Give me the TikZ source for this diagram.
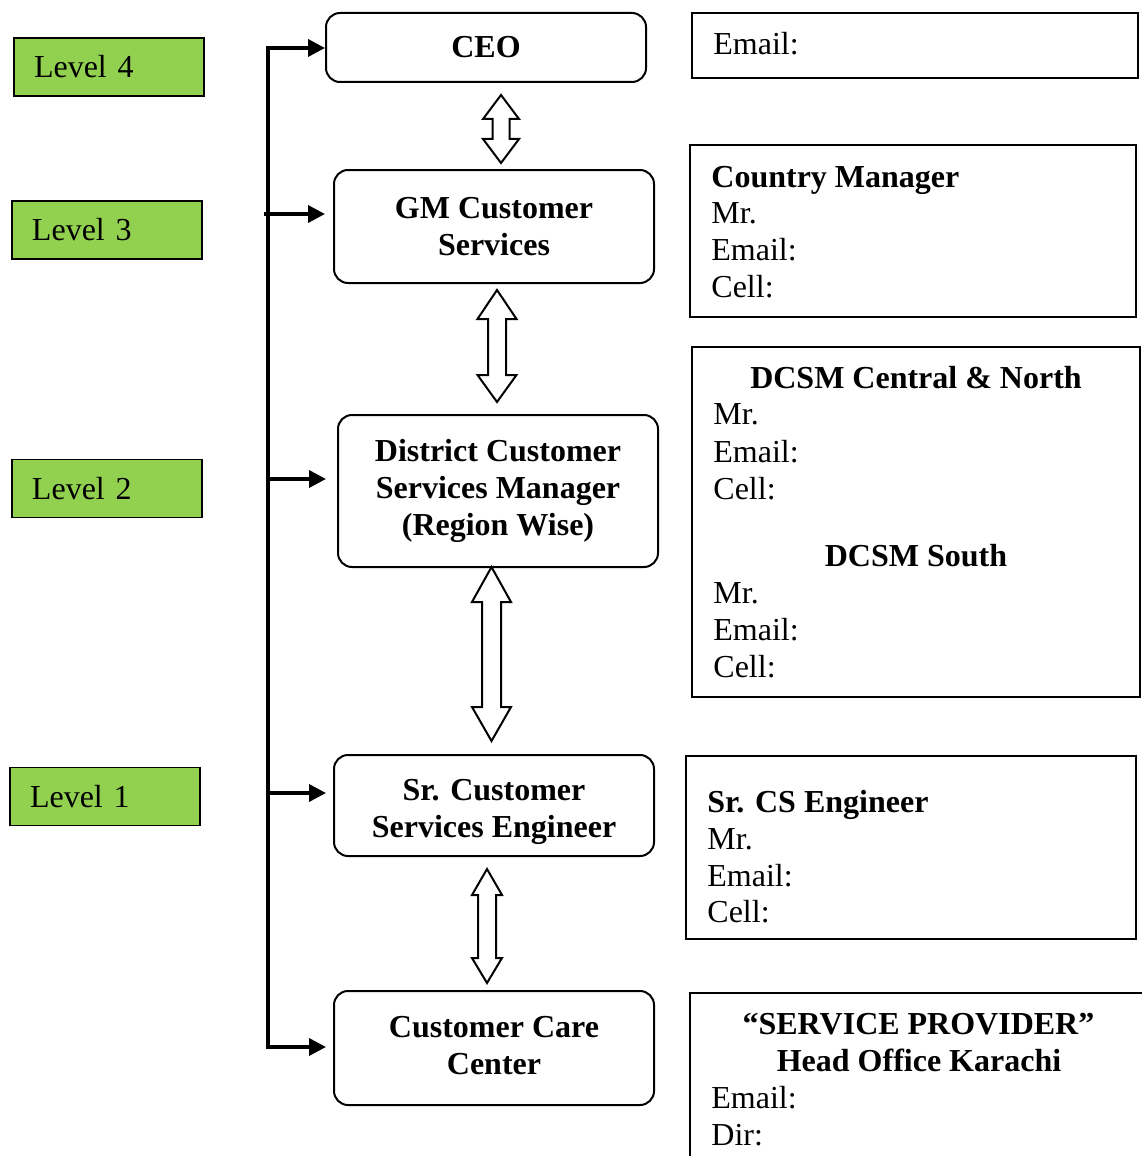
\documentclass[tikz,border=0pt]{standalone}
\usepackage{fontspec}
\setmainfont{Liberation Serif}
\usetikzlibrary{arrows.meta}
\definecolor{lvlgreen}{HTML}{92D050}
\newcommand\dblarr[7]{%
  \draw[blockarr] (#1,#2) -- ({#1+#4},{#2+#6}) -- ({#1+#5},{#2+#6}) -- ({#1+#5},{#3-#7}) -- ({#1+#4},{#3-#7}) -- (#1,#3) -- ({#1-#4},{#3-#7}) -- ({#1-#5},{#3-#7}) -- ({#1-#5},{#2+#6}) -- ({#1-#4},{#2+#6}) -- cycle;}
\begin{document}
\begin{tikzpicture}[x=0.5pt,y=-0.5pt,
  every node/.style={font=\fontsize{16}{18.5}\selectfont, inner sep=0pt},
  lvl/.style={draw=black, line width=0.8pt, fill=lvlgreen, minimum width=95pt, minimum height=29pt, inner xsep=10pt, text width=75pt, align=left},
  cbox/.style={draw=black, line width=1pt, rounded corners=7pt, minimum width=160pt, align=center, font=\fontsize{16}{18.5}\selectfont\bfseries},
  ctext/.style={align=center, font=\fontsize{16}{18.5}\selectfont\bfseries},
  rbox/.style={draw=black, line width=1.2pt},
  txt/.style={anchor=base west},
  head/.style={anchor=base west, font=\fontsize{16}{18.5}\selectfont\bfseries},
  chead/.style={anchor=base, font=\fontsize{16}{18.5}\selectfont\bfseries},
  conn/.style={line width=1.8pt},
  tip/.style={-{Triangle[length=8.5pt,width=8.5pt]}},
  blockarr/.style={draw=black, line width=1pt, fill=white, line join=miter}
]
\useasboundingbox (0,0) rectangle (1141,1156);

% level boxes
\node[lvl] (l4) at (109,67) {Level 4};
\node[lvl] (l3) at (107,230) {Level 3};
\node[lvl] (l2) at (107,488.5) {Level 2};
\node[lvl] (l1) at (105,796.5) {Level 1};

% centre boxes
\node[cbox, minimum height=34.5pt] (ceo) at (486,47.5) {CEO};
\node[cbox, minimum height=56.5pt] (gm) at (494,226.5) {GM Customer\\Services};
\node[cbox, minimum height=76pt] (dcsm) at (498,491) {District Customer\\Services Manager\\(Region Wise)};
\node[cbox, minimum height=50.5pt] (sr) at (494,805.5) {};
\node[ctext] (srt) at (494,812) {Sr. Customer\\Services Engineer};
\node[cbox, minimum height=57pt] (ccc) at (494,1048) {};
\node[ctext] (ccct) at (494,1046) {Customer Care\\Center};

% bus connectors
\coordinate (b1) at (268,48);
\coordinate (b2) at (268,214);
\coordinate (b3) at (268,479);
\coordinate (b4) at (268,793);
\coordinate (b5) at (268,1047);
\coordinate (b2s) at (264,214);
\draw[conn,{Triangle[length=8.5pt,width=8.5pt]}-{Triangle[length=8.5pt,width=8.5pt]}, shorten >=3.5pt] (b1 -| ceo.west) -- (b1) -- (b5) -- (b5 -| ccc.west);
\draw[line width=2.2pt] (b1) -- (b5);
\draw[conn,tip,shorten >=4pt] (b2s) -- (b2 -| gm.west);
\draw[conn,tip,shorten >=5.5pt] (b3) -- (b3 -| dcsm.west);
\draw[conn,tip,shorten >=3.5pt] (b4) -- (b4 -| sr.west);

% hollow double arrows
\dblarr{501}{95}{163}{18}{8.5}{24}{24}
\dblarr{497}{290}{402}{19.5}{9}{29}{27}
\dblarr{491.5}{567}{741}{19.5}{9.5}{35}{34}
\dblarr{487}{869}{983}{15}{9}{26}{25}

% right boxes
\node[rbox, minimum width=223pt, minimum height=32.5pt] (remail) at (915,45.5) {};
\node[txt] (remailt) at (713,55) {Email:};

\node[rbox, minimum width=223pt, minimum height=86pt] (rcm) at (913,231) {};
\node[head] (rcmh) at (711,187) {Country Manager};
\node[txt] (rcm1) at (711,223) {Mr.};
\node[txt] (rcm2) at (711,260) {Email:};
\node[txt] (rcm3) at (711,297) {Cell:};

\node[rbox, minimum width=224pt, minimum height=175pt] (rdc) at (916,522) {};
\node[chead] (rdch) at (916,388) {DCSM Central \& North};
\node[txt] (rdc1) at (713,424) {Mr.};
\node[txt] (rdc2) at (713,462) {Email:};
\node[txt] (rdc3) at (713,499) {Cell:};
\node[chead] (rdsh) at (916,566) {DCSM South};
\node[txt] (rds1) at (713,603) {Mr.};
\node[txt] (rds2) at (713,640) {Email:};
\node[txt] (rds3) at (713,677) {Cell:};

\node[rbox, minimum width=225pt, minimum height=91.5pt] (rsr) at (911,847.5) {};
\node[head] (rsrh) at (707,812) {Sr. CS Engineer};
\node[txt] (rsr1) at (707,849) {Mr.};
\node[txt] (rsr2) at (707,886) {Email:};
\node[txt] (rsr3) at (707,922) {Cell:};

\draw[rbox] (690,1160) -- (690,993) -- (1145,993);
\node[chead] (rsph) at (918.5,1034) {“SERVICE PROVIDER”};
\node[chead] (rsph2) at (919,1071) {Head Office Karachi};
\node[txt] (rsp1) at (711,1108) {Email:};
\node[txt] (rsp2) at (711,1145) {Dir:};
\end{tikzpicture}
\end{document}
